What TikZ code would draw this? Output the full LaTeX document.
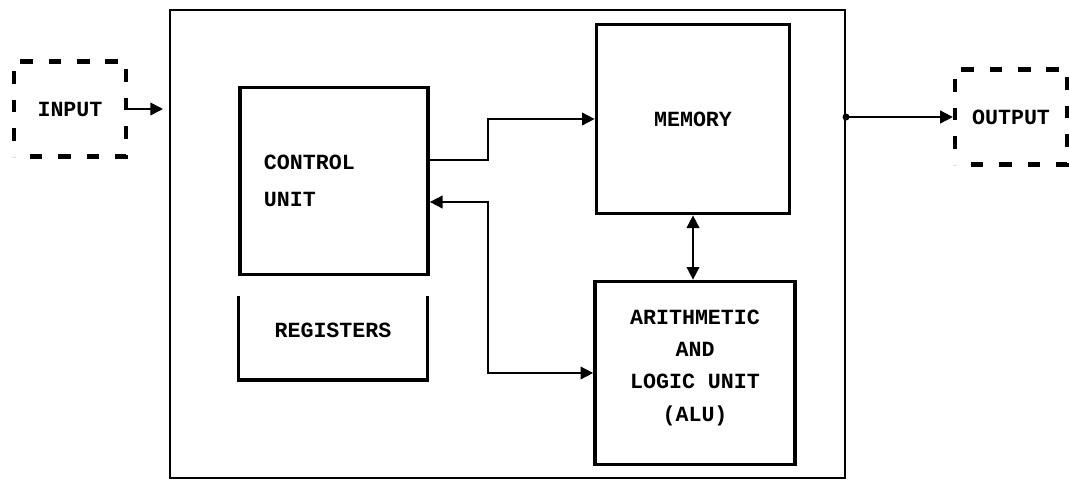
\documentclass[tikz,border=0pt]{standalone}
\usepackage{fontspec}
\setmonofont{Liberation Mono}
\usetikzlibrary{arrows.meta, positioning, calc, decorations}

\begin{document}
\begin{tikzpicture}[x=0.025cm,y=-0.025cm,
    blk/.style={rectangle,draw,line width=2.6pt,align=center,
                font=\ttfamily\bfseries\fontsize{15.4}{23}\selectfont},
    iobox/.style={rectangle,draw,line width=3pt,dash pattern=on 9pt off 10pt,
                dash expand off,minimum width=2.8cm,minimum height=2.375cm,
                font=\ttfamily\bfseries\fontsize{15.4}{23}\selectfont},
    conn/.style={line width=1.2pt,-{Triangle[length=9pt,width=9pt]}},
    dbl/.style={line width=1.2pt,{Triangle[length=9pt,width=9pt]}-{Triangle[length=9pt,width=9pt]}}]
  \useasboundingbox (0,0) rectangle (1069,482);
  % processor frame
  \node[draw,line width=1.3pt,minimum width=16.875cm,minimum height=11.7cm]
        (cpu)at(507.5,244) {};
  % blocks inside
  \node[blk,minimum width=4.7cm,minimum height=4.675cm,text width=3.5cm,align=left]
        (ctrl)at(334,181) {CONTROL\\[3pt]UNIT};
  \node[blk,minimum width=4.825cm,minimum height=4.725cm]
        (mem)at(693,119) {MEMORY};
  \node[blk,minimum width=5cm,minimum height=4.575cm]
        (alu)at(695,373) {ARITHMETIC\\AND\\LOGIC UNIT\\(ALU)\\[-12pt]};
  \node[blk,draw=none,minimum width=4.625cm,minimum height=2cm]
        (regs)at(333,330) {REGISTERS};
  \draw[line width=2.6pt]($(regs.north west)+(0,8)$)--($(regs.south west)+(0,8)$)
        --($(regs.south east)+(0,8)$)--($(regs.north east)+(0,8)$);
  % input / output
  \node[iobox](inp)at(70,109)   {INPUT};
  \node[iobox](outp)at(1011,117){OUTPUT};
  % connections
  \draw[conn,shorten >=1.5mm](inp.east)--(inp.east -| cpu.west);
  \draw[conn]($(ctrl.east)+(0,-21)$)--++(58,0)|-(mem.west);
  \draw[dbl]($(ctrl.east)+(0,21)$)--++(58,0)|-(alu.west);
  \draw[dbl](mem.south)--(mem.south |- alu.north);
  \draw[conn](outp.west -| cpu.east)--(outp.west);
  \fill(outp.west -| cpu.east) circle (2.5pt);
\end{tikzpicture}
\end{document}
